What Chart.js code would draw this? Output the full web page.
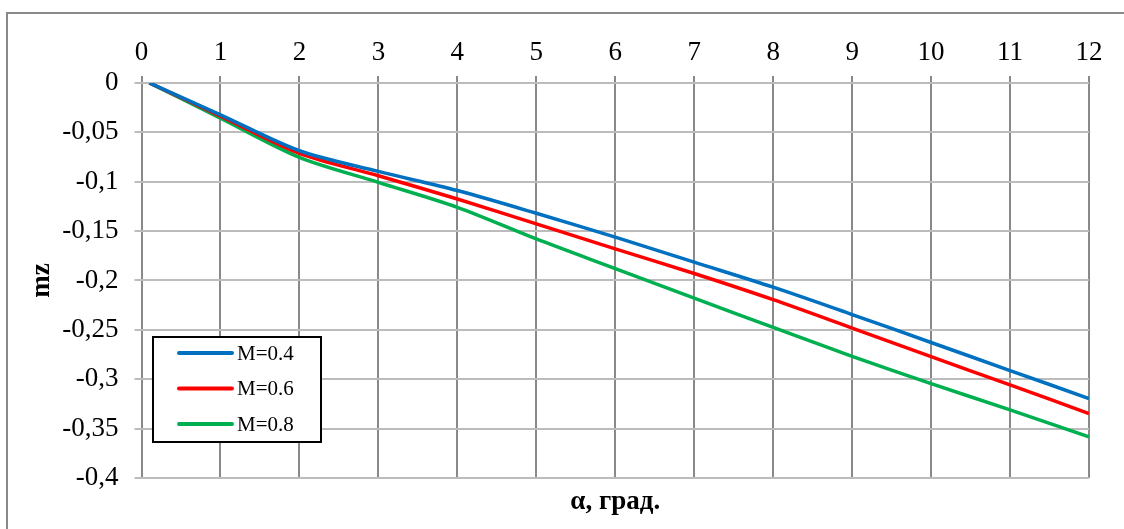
<!DOCTYPE html>
<html>
<head>
<meta charset="utf-8">
<script src="https://cdn.jsdelivr.net/npm/chart.js@4.4.1/dist/chart.umd.min.js"></script>
<style>
  html, body { margin: 0; padding: 0; background: #fff; overflow: hidden; }
  #wrap { width: 1124px; height: 529px; }
</style>
</head>
<body>
<div id="wrap"><canvas id="chart" width="1124" height="529"></canvas></div>
<script>
// angle of attack, deg
const alpha = [0.1, 1, 2, 3, 4, 5, 6, 7, 8, 9, 10, 11, 12];
// mz for each Mach number
const mzM04 = [0, -0.0323, -0.0687, -0.0896, -0.109, -0.132, -0.1562, -0.1815, -0.2068, -0.2345, -0.2628, -0.2912, -0.3195];
const mzM06 = [0, -0.0337, -0.0714, -0.094, -0.1175, -0.1427, -0.168, -0.193, -0.2195, -0.2482, -0.2771, -0.3058, -0.3347];
const mzM08 = [0, -0.0357, -0.0754, -0.1007, -0.126, -0.158, -0.188, -0.218, -0.2475, -0.2768, -0.3045, -0.331, -0.3583];
const seriesLabels = ['M=0.4', 'M=0.6', 'M=0.8'];
const seriesColors = ['#0070C0', '#FF0000', '#00B050'];

const FONT = "'Liberation Serif', 'Times New Roman', serif";

const toPoints = (ys) => alpha.map((x, i) => ({ x: x, y: ys[i] }));

// frame round the chart, only top and left edges are in view
const framePlugin = {
  id: 'frame',
  beforeDraw(chart) {
    const ctx = chart.ctx;
    ctx.save();
    ctx.strokeStyle = '#898989';
    ctx.lineWidth = 2;
    ctx.beginPath();
    ctx.moveTo(7, chart.height);
    ctx.lineTo(7, 13);
    ctx.lineTo(chart.width, 13);
    ctx.stroke();
    ctx.restore();
  }
};

// legend box inside the plot, lower left
const boxLegend = {
  id: 'boxLegend',
  afterDraw(chart) {
    const ctx = chart.ctx;
    const bx = 153, by = 337, bw = 168, bh = 105;
    ctx.save();
    ctx.fillStyle = '#fff';
    ctx.fillRect(bx, by, bw, bh);
    ctx.strokeStyle = '#000';
    ctx.lineWidth = 2;
    ctx.strokeRect(bx, by, bw, bh);
    chart.data.datasets.forEach((ds, i) => {
      const y = 353 + i * 35.5;
      ctx.strokeStyle = ds.borderColor;
      ctx.lineWidth = 4;
      ctx.lineCap = 'round';
      ctx.beginPath();
      ctx.moveTo(179, y);
      ctx.lineTo(232, y);
      ctx.stroke();
      ctx.fillStyle = '#000';
      ctx.font = '21px ' + FONT;
      ctx.textBaseline = 'middle';
      ctx.textAlign = 'left';
      ctx.fillText(ds.label, 237, y + 1);
    });
    ctx.restore();
  }
};

new Chart(document.getElementById('chart'), {
  type: 'line',
  data: {
    datasets: [
      { label: seriesLabels[0], data: toPoints(mzM04), borderColor: seriesColors[0] },
      { label: seriesLabels[1], data: toPoints(mzM06), borderColor: seriesColors[1] },
      { label: seriesLabels[2], data: toPoints(mzM08), borderColor: seriesColors[2] }
    ]
  },
  options: {
    responsive: false,
    animation: false,
    devicePixelRatio: 1,
    layout: { padding: { left: 26, right: 35, top: 29.5, bottom: 11 } },
    elements: {
      line: { borderWidth: 3.5, tension: 0.3, fill: false },
      point: { radius: 0 }
    },
    plugins: {
      legend: { display: false },
      tooltip: { enabled: false }
    },
    scales: {
      x: {
        type: 'linear',
        position: 'top',
        min: 0,
        max: 12,
        ticks: {
          stepSize: 1,
          padding: 7,
          color: '#000',
          font: { family: FONT, size: 27 }
        },
        grid: { color: '#898989', lineWidth: 2, tickLength: 7 },
        border: { display: false }
      },
      x2: {
        type: 'linear',
        position: 'bottom',
        ticks: { display: false },
        grid: { display: false, drawTicks: false },
        border: { display: false },
        title: {
          display: true,
          text: 'α, град.',
          color: '#000',
          padding: 0,
          font: { family: FONT, size: 27, weight: 'bold' }
        },
        afterFit(scale) { scale.height = 40; }
      },
      y: {
        min: -0.4,
        max: 0,
        ticks: {
          stepSize: 0.05,
          padding: 16,
          color: '#000',
          font: { family: FONT, size: 27 },
          callback: (v) => String(+v.toFixed(2)).replace('.', ',')
        },
        grid: { color: '#bcbcbc', lineWidth: 2, tickLength: 7 },
        border: { display: false },
        title: {
          display: true,
          text: 'mz',
          color: '#000',
          padding: 0,
          font: { family: FONT, size: 27, weight: 'bold' }
        },
        afterFit(scale) { scale.width = 115.5; }
      }
    }
  },
  plugins: [framePlugin, boxLegend]
});
</script>
</body>
</html>
